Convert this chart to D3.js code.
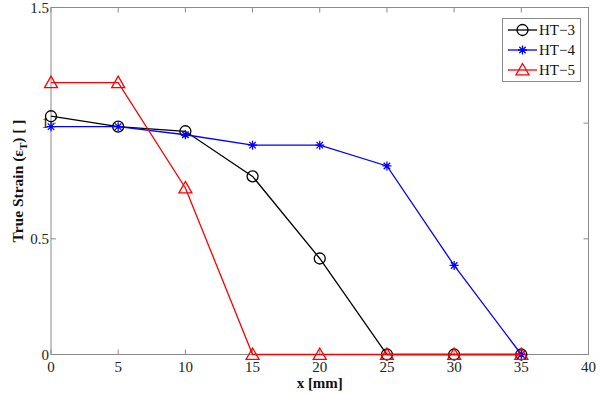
<!DOCTYPE html>
<html>
<head>
<meta charset="utf-8">
<script src="https://cdn.jsdelivr.net/npm/d3@7"></script>
<style>
  body { margin: 0; background: #fff; }
  svg text { font-family: "Liberation Serif", "DejaVu Serif", serif; }
</style>
</head>
<body>
<svg id="chart" width="600" height="393"></svg>
<script>
// x positions (mm)
const xs = [0, 5, 10, 15, 20, 25, 30, 35];

// true strain values
const ht3 = [1.03, 0.985, 0.965, 0.77, 0.415, 0, 0, 0];
const ht4 = [0.985, 0.985, 0.95, 0.905, 0.905, 0.815, 0.385, 0];
const ht5 = [1.175, 1.175, 0.72, 0, 0, 0, 0, 0];

const xTicks = [0, 5, 10, 15, 20, 25, 30, 35, 40];
const yTicks = [0, 0.5, 1, 1.5];

const series = [
    { name: 'HT\u22123', values: ht3, color: '#000000', marker: 'circle' },
    { name: 'HT\u22124', values: ht4, color: '#0000ff', marker: 'star' },
    { name: 'HT\u22125', values: ht5, color: '#ff0000', marker: 'triangle' },
];

const svg = d3.select('#chart');
const mLeft = 51, mRight = 588.5, mTop = 7.5, mBottom = 354.5;

const x = d3.scaleLinear().domain([0, 40]).range([mLeft, mRight]);
const y = d3.scaleLinear().domain([0, 1.5]).range([mBottom, mTop]);

const axisColor = '#8a8a8a';

// frame
svg.append('rect')
    .attr('x', mLeft).attr('y', mTop)
    .attr('width', mRight - mLeft).attr('height', mBottom - mTop)
    .attr('fill', 'none').attr('stroke', axisColor).attr('stroke-width', 1);

// ticks (inward) on all four sides
const tickLen = 5;
const tk = svg.append('g').attr('stroke', axisColor).attr('stroke-width', 1);
xTicks.forEach(t => {
    tk.append('line').attr('x1', x(t)).attr('x2', x(t)).attr('y1', mBottom).attr('y2', mBottom - tickLen);
    tk.append('line').attr('x1', x(t)).attr('x2', x(t)).attr('y1', mTop).attr('y2', mTop + tickLen);
});
yTicks.forEach(t => {
    tk.append('line').attr('x1', mLeft).attr('x2', mLeft + tickLen).attr('y1', y(t)).attr('y2', y(t));
    tk.append('line').attr('x1', mRight).attr('x2', mRight - tickLen).attr('y1', y(t)).attr('y2', y(t));
});

// tick labels
svg.append('g').selectAll('text')
    .data(xTicks)
    .join('text')
    .attr('x', d => x(d))
    .attr('y', mBottom + 17)
    .attr('text-anchor', 'middle')
    .attr('font-size', '15px')
    .attr('fill', '#222')
    .text(d => d);

svg.append('g').selectAll('text')
    .data(yTicks)
    .join('text')
    .attr('x', mLeft - 2)
    .attr('y', d => y(d) + 5)
    .attr('text-anchor', 'end')
    .attr('font-size', '15px')
    .attr('fill', '#222')
    .text(d => d);

// axis titles
svg.append('text')
    .attr('x', x(20))
    .attr('y', 388)
    .attr('text-anchor', 'middle')
    .attr('font-size', '15px')
    .attr('font-weight', 'bold')
    .attr('fill', '#111')
    .text('x [mm]');

const yl = svg.append('text')
    .attr('transform', `translate(23,${(mTop + mBottom) / 2}) rotate(-90)`)
    .attr('text-anchor', 'middle')
    .attr('font-size', '15.5px')
    .attr('font-weight', 'bold')
    .attr('fill', '#111');
yl.append('tspan').text('True Strain (\u03b5');
yl.append('tspan').attr('font-size', '11px').attr('dy', 4).text('T');
yl.append('tspan').attr('dy', -4).text(') [ ]');

// markers
function drawMarker(g, type, color, cx, cy) {
    if (type === 'circle') {
        g.append('circle').attr('cx', cx).attr('cy', cy).attr('r', 5.5)
            .attr('fill', 'none').attr('stroke', color).attr('stroke-width', 1.3);
    } else if (type === 'triangle') {
        const s = 6.5;
        g.append('polygon')
            .attr('points', `${cx},${cy - s} ${cx + s},${cy + s * 0.75} ${cx - s},${cy + s * 0.75}`)
            .attr('fill', 'none').attr('stroke', color).attr('stroke-width', 1.3);
    } else {
        const s = 4.5, d = s * 0.72;
        const p = `M${cx - s},${cy}L${cx + s},${cy}M${cx},${cy - s}L${cx},${cy + s}` +
            `M${cx - d},${cy - d}L${cx + d},${cy + d}M${cx - d},${cy + d}L${cx + d},${cy - d}`;
        g.append('path').attr('d', p).attr('stroke', color).attr('stroke-width', 1.3);
    }
}

const line = d3.line().x(d => x(d[0])).y(d => y(d[1]));

series.forEach(s => {
    const pts = xs.map((v, i) => [v, s.values[i]]);
    const g = svg.append('g');
    g.append('path')
        .attr('d', line(pts))
        .attr('fill', 'none')
        .attr('stroke', s.color)
        .attr('stroke-width', 1.3);
    pts.forEach(p => drawMarker(g, s.marker, s.color, x(p[0]), y(p[1])));
});

// legend
const lg = svg.append('g');
lg.append('rect')
    .attr('x', 502.5).attr('y', 18.5)
    .attr('width', 78).attr('height', 63)
    .attr('fill', '#fff').attr('stroke', axisColor).attr('stroke-width', 1);
series.forEach((s, i) => {
    const ly = 30 + i * 20;
    lg.append('line').attr('x1', 508).attr('x2', 537).attr('y1', ly).attr('y2', ly)
        .attr('stroke', s.color).attr('stroke-width', 1.3);
    drawMarker(lg, s.marker, s.color, 522.5, ly);
    lg.append('text')
        .attr('x', 539).attr('y', ly + 5)
        .attr('font-size', '15px').attr('fill', '#111')
        .text(s.name);
});
</script>
</body>
</html>
